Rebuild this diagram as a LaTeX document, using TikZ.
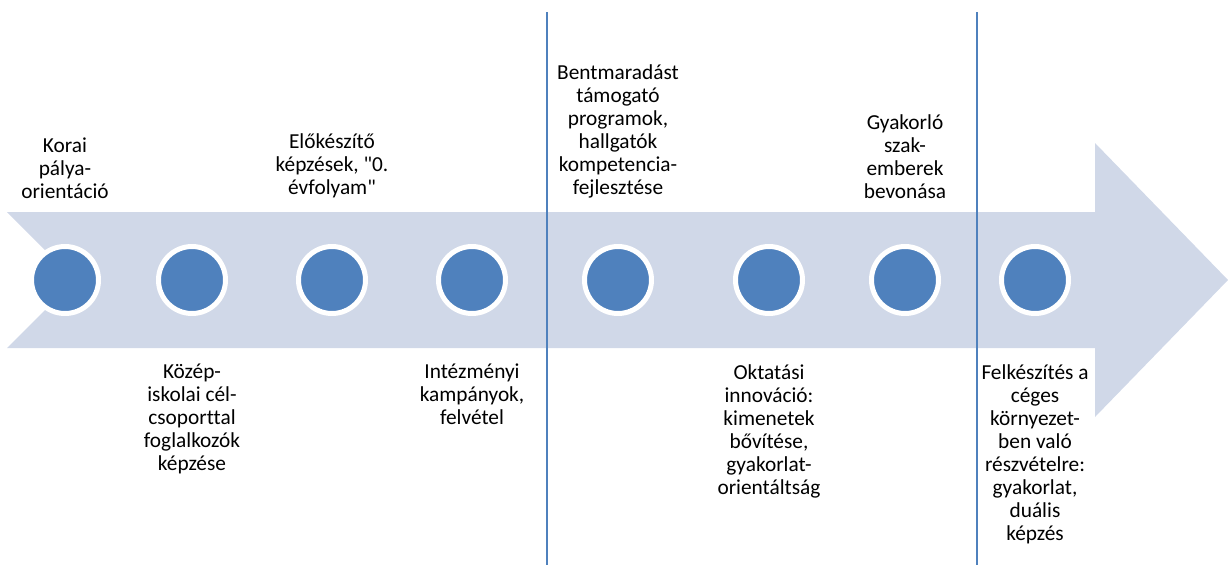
\documentclass[tikz,border=0pt]{standalone}
\usepackage{fontspec}
\setmainfont{Carlito}[Ligatures={TeXOff,NoCommon}]
\usepackage{tikz}
\usetikzlibrary{positioning}
\usepackage{xcolor}
\definecolor{tlblue}{RGB}{79,129,189}
\definecolor{tllight}{RGB}{208,216,232}
\tikzstyle{milestone} = [circle, fill=tlblue, draw=white, line width=3.75pt, minimum size=50.25pt, inner sep=0pt]
\tikzstyle{steptext} = [align=center, inner sep=0pt, font=\fontsize{16}{17.25}\selectfont]
\tikzstyle{divider} = [line width=1.5pt, color=tlblue]

\begin{document}
\begin{tikzpicture}[x=0.75pt, y=-0.75pt]
\useasboundingbox (0,0) rectangle (1228,565);

% Timeline arrow
\fill[tllight] (7,212) -- (1095,212) -- (1095,143) -- (1228,280) -- (1095,417)
  -- (1095,348) -- (7,348) -- (75,280) -- cycle;

% Milestones
\node (korai) [milestone] at (65,280) {};
\node (kozep) [milestone] at (192,280) {};
\node (eloke) [milestone] at (332,280) {};
\node (kampany) [milestone] at (472,280) {};
\node (bent) [milestone] at (618,280) {};
\node (innov) [milestone] at (769,280) {};
\node (gyak) [milestone] at (905,280) {};
\node (dualis) [milestone] at (1035,280) {};

% Texts above
\node [steptext, above=34pt of korai] {Korai\\pálya-\\orientáció};
\node [steptext, above=34pt of eloke] {Előkészítő\\képzések, "0.\\évfolyam"};
\node [steptext, above=34pt of bent] {Bentmaradást\\támogató\\programok,\\hallgatók\\kompetencia-\\fejlesztése};
\node [steptext, above=34pt of gyak] {Gyakorló\\szak-\\emberek\\bevonása};

% Texts below
\node [steptext, below=36pt of kozep] {Közép-\\iskolai cél-\\csoporttal\\foglalkozók\\képzése};
\node [steptext, below=36pt of kampany] {Intézményi\\kampányok,\\felvétel};
\node [steptext, below=36pt of innov] {Oktatási\\innováció:\\kimenetek\\bővítése,\\gyakorlat-\\orientáltság};
\node [steptext, below=36pt of dualis] {Felkészítés a\\céges\\környezet-\\ben való\\részvételre:\\gyakorlat,\\duális\\képzés};

% Phase dividers
\draw[divider] (547,12) -- (547,565);
\draw[divider] (977,12) -- (977,565);
\end{tikzpicture}
\end{document}
